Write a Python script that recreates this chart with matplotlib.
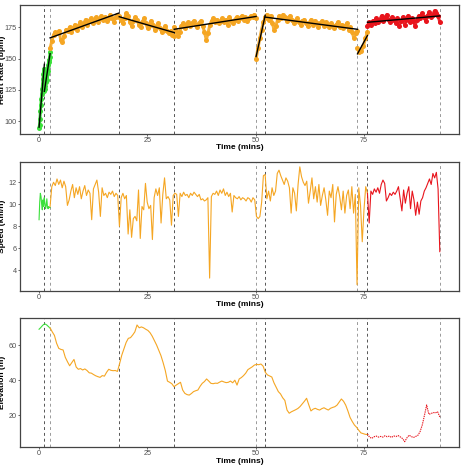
import numpy as np
import matplotlib
matplotlib.use('Agg')
import matplotlib.pyplot as plt

plt.rcParams['font.family'] = ['Liberation Sans', 'DejaVu Sans']

# lap boundaries (mins)
lap_bounds = [0, 1.22, 2.54, 18.5, 31.2, 50.1, 52.2, 73.5, 75.8, 92.5]
lap_zone = ['green', 'green', 'orange', 'orange', 'orange', 'orange', 'orange', 'orange', 'red']
marks_dark = [1.22, 18.5, 31.2, 52.2, 75.8]
marks_light = [2.54, 50.1, 73.5, 92.5]

# heart rate per lap (bpm), evenly spaced inside each lap
hr_lap1 = [95, 97, 102, 108, 113, 118, 122, 126, 130, 134, 138, 142, 140]
hr_lap2 = [124, 128, 126, 131, 135, 133, 138, 142, 140, 145, 149, 147, 151, 155]
hr_lap3 = [158, 164, 169, 171, 170, 172, 165, 163, 168, 173, 172, 175, 171, 174, 177, 173, 176, 179, 175, 178,
           181, 177, 180, 182, 178, 181, 183, 179, 182, 184, 181, 183, 180, 182, 185, 182, 179, 183, 185, 184]
hr_lap4 = [183, 181, 178, 182, 186, 184, 179, 176, 180, 183, 181, 177, 175, 179, 182, 178, 174, 176, 180, 177,
           173, 175, 178, 174, 171, 173, 176, 172, 170, 172, 169, 168]
hr_lap5 = [175, 172, 168, 171, 176, 178, 174, 177, 179, 176, 178, 180, 177, 175, 178, 180, 176, 171, 165, 170,
           177, 180, 182, 179, 181, 178, 180, 182, 179, 181, 177, 183, 180, 178, 181, 183, 180, 182, 184, 181,
           183, 180, 182, 184, 183, 185, 182]
hr_lap6 = [150, 158, 166, 173, 179, 182]
hr_lap7 = [183, 185, 181, 184, 178, 173, 176, 181, 184, 182, 185, 183, 180, 182, 184, 181, 178, 180, 182, 179,
           177, 180, 181, 178, 176, 179, 181, 177, 180, 178, 175, 178, 180, 176, 179, 177, 175, 178, 176, 174,
           177, 179, 175, 177, 174, 176, 178, 173, 175, 171, 166, 170, 172]
hr_lap8 = [158, 155, 156, 160, 166, 171]
hr_lap9 = [176, 179, 177, 180, 178, 182, 179, 181, 184, 180, 182, 185, 181, 179, 183, 181, 178, 182, 176, 180,
           183, 177, 181, 184, 179, 182, 180, 176, 181, 184, 182, 186, 183, 180, 184, 187, 183, 185, 188, 186,
           184, 179]

# speed (km/h) per zone
speed_green = [8.6, 10.2, 11.0, 10.7, 10.0, 9.5, 10.4, 9.8, 10.6, 10.1, 9.6, 9.9, 10.5, 9.7, 9.6, 9.8, 9.7, 9.7]
speed_orange = [9.8, 11.6, 12.0, 11.7, 12.3, 11.8, 12.2, 11.5, 12.1, 11.6,
                9.9, 10.4, 11.2, 11.8, 10.6, 11.5, 10.9, 11.6, 10.5, 11.2,
                11.7, 10.8, 11.3, 11.0, 8.6, 11.4, 11.8, 12.2, 11.1, 8.9,
                11.5, 10.8, 11.0, 10.6, 11.1, 10.9, 11.2, 10.7, 11.0, 10.8,
                8.0, 10.6, 11.0, 10.5, 10.8, 7.3, 9.5, 7.0, 8.7, 8.9,
                8.5, 11.3, 6.9, 9.8, 9.5, 11.9, 10.2, 9.6, 9.9, 6.8,
                10.6, 11.4, 10.8, 11.5, 8.3, 10.9, 12.4, 10.5, 10.7, 10.4,
                8.1, 10.8, 11.0, 10.9, 8.9, 11.0, 10.7, 11.1, 10.8, 10.9,
                10.6, 11.0, 10.8, 11.1, 10.9, 10.7, 10.9, 10.4, 10.5, 10.3,
                10.4, 10.6, 3.3, 10.7, 11.0, 10.9, 11.2, 10.8, 11.3, 11.0,
                11.4, 10.8, 11.1, 10.7, 11.0, 9.3, 10.8, 10.6, 10.5, 10.7,
                10.4, 10.6, 10.5, 10.3, 10.6, 10.5, 10.2, 10.6, 10.4, 8.9,
                8.7, 8.9, 10.2, 12.6, 12.7, 10.5, 11.2, 10.3, 11.5, 10.8,
                11.2, 12.8, 13.1, 12.6, 12.2, 11.8, 12.4, 12.1, 11.5, 9.2,
                11.5, 11.0, 9.4, 11.8, 13.4, 12.5, 12.0, 11.7, 12.1, 10.1,
                11.2, 12.4, 10.5, 11.6, 10.2, 11.8, 9.9, 10.8, 11.5, 10.4,
                9.0, 11.2, 10.6, 11.8, 8.4, 10.9, 11.6, 10.7, 9.5, 11.2,
                9.2, 10.8, 11.3, 9.6, 11.6, 9.2, 10.9, 2.7, 11.5, 9.9,
                6.6, 9.5, 11.6, 11.0]
speed_red = [11.0, 8.3, 11.2, 10.9, 11.4, 11.1, 11.5, 11.0, 11.8, 12.2,
             11.9, 10.3, 10.6, 11.0, 10.8, 11.1, 10.9, 11.2, 11.6, 10.5,
             9.4, 11.3, 10.1, 11.0, 11.6, 9.6, 11.2, 10.4, 9.0, 10.2,
             9.1, 10.3, 10.6, 11.2, 11.5, 11.9, 12.3, 11.8, 12.8, 12.4,
             12.9, 11.4, 5.7]

# elevation (m) per zone
elev_green = [69.0, 69.6, 70.3, 71.0, 71.6, 72.0, 71.8, 71.4, 70.8, 70.2, 69.6]
elev_orange = [69.8, 67.5, 65.5, 61.0, 58.1, 57.5, 57.2, 53.0, 50.5, 48.2,
               50.0, 51.8, 47.5, 46.2, 46.6, 45.8, 46.4, 45.5, 44.2, 44.0,
               43.2, 42.5, 42.0, 41.6, 42.6, 42.3, 44.5, 46.2, 45.6, 45.4,
               45.5, 45.0, 49.5, 54.3, 57.9, 61.5, 63.8, 64.2, 65.7, 67.5,
               71.4, 69.8, 70.3, 69.8, 69.0, 68.3, 67.0, 65.0, 62.5, 60.0,
               57.0, 54.0, 50.0, 45.5, 39.5, 38.8, 38.0, 36.3, 37.2, 38.0,
               38.8, 34.4, 32.5, 31.8, 31.5, 32.4, 33.5, 34.0, 34.4, 36.5,
               38.2, 39.2, 40.7, 39.5, 38.2, 38.0, 38.3, 38.2, 38.9, 39.5,
               39.0, 38.6, 38.8, 39.5, 38.5, 40.0, 37.2, 40.7, 41.5, 42.6,
               44.0, 46.0, 46.8, 47.6, 48.6, 49.0, 48.8, 49.2, 48.0, 44.5,
               43.0, 42.4, 41.8, 38.5, 36.0, 33.5, 32.2, 30.0, 28.5, 23.0,
               21.2, 22.0, 22.6, 23.2, 23.9, 25.0, 26.5, 28.0, 29.7, 26.0,
               22.5, 23.5, 24.0, 23.4, 23.0, 23.8, 24.3, 23.6, 23.0, 24.0,
               24.5, 24.9, 25.8, 27.5, 29.3, 28.0, 25.8, 22.5, 18.8, 16.5,
               14.5, 13.2, 11.5, 10.0, 9.6, 9.2, 9.1]
elev_red = [9.4, 7.5, 6.9, 7.8, 8.2, 7.6, 8.0, 7.6, 8.4, 7.8,
            8.2, 7.4, 8.3, 7.9, 8.5, 7.7, 6.8, 5.0, 7.2, 8.7,
            7.9, 7.4, 8.0, 8.6, 10.7, 14.5, 20.0, 25.9, 20.6, 21.0,
            21.6, 21.4, 22.0, 19.1]

colours = {'green': '#3BE03B', 'orange': '#F5A623', 'red': '#E8141C'}
zone_span = {'green': (0, 2.54), 'orange': (2.54, 75.8), 'red': (75.8, 92.5)}

fig = plt.figure(figsize=(4.61, 4.72), dpi=100)
ax1 = fig.add_axes([0.0434, 0.716, 0.9529, 0.274])
ax2 = fig.add_axes([0.0434, 0.384, 0.9529, 0.273])
ax3 = fig.add_axes([0.0434, 0.0523, 0.9529, 0.2733])

# heart rate scatter + per lap linear fit
hr_laps = [hr_lap1, hr_lap2, hr_lap3, hr_lap4, hr_lap5, hr_lap6, hr_lap7, hr_lap8, hr_lap9]
for i, vals in enumerate(hr_laps):
    t = np.linspace(lap_bounds[i], lap_bounds[i + 1], len(vals))
    ax1.plot(t, vals, color=colours[lap_zone[i]], lw=2.2, alpha=0.9, zorder=2)
    ax1.scatter(t, vals, s=13, color=colours[lap_zone[i]], lw=0, zorder=2)
for i, vals in enumerate(hr_laps):
    t = np.linspace(lap_bounds[i], lap_bounds[i + 1], len(vals))
    coef = np.polyfit(t, vals, 1)
    ends = np.array([t[0], t[-1]])
    ax1.plot(ends, np.polyval(coef, ends), color='black', lw=1.0, zorder=3)

for zone, vals in [('green', speed_green), ('orange', speed_orange), ('red', speed_red)]:
    t = np.linspace(zone_span[zone][0], zone_span[zone][1], len(vals))
    ax2.plot(t, vals, color=colours[zone], lw=0.8, zorder=2)

for zone, vals in [('green', elev_green), ('orange', elev_orange), ('red', elev_red)]:
    t = np.linspace(zone_span[zone][0], zone_span[zone][1], len(vals))
    ls = (0, (1.2, 0.8)) if zone == 'red' else '-'
    ax3.plot(t, vals, color=colours[zone], lw=0.8, ls=ls, zorder=2)

ylabels = ['Heart Rate (bpm)', 'Speed (km/h)', 'Elevation (m)']
yticks = [[100, 125, 150, 175], [4, 6, 8, 10, 12], [20, 40, 60]]
ylims = [(89.9, 192.8), (2.15, 13.85), (1.8, 75.2)]
for ax, lab, tk, yl in zip([ax1, ax2, ax3], ylabels, yticks, ylims):
    for m in marks_dark:
        ax.axvline(m, color='#555555', lw=0.7, ls=(0, (3, 3)), zorder=1)
    for m in marks_light:
        ax.axvline(m, color='#9a9a9a', lw=0.7, ls=(0, (3, 3)), zorder=1)
    ax.set_xlim(-4.4, 97.0)
    ax.set_ylim(*yl)
    ax.set_xticks([0, 25, 50, 75])
    ax.set_yticks(tk)
    ax.tick_params(labelsize=5.2, colors='#4D4D4D', length=1.6, width=0.6, pad=0.6)
    for sp in ax.spines.values():
        sp.set_color('#444444')
        sp.set_linewidth(0.9)
    ax.set_xlabel('Time (mins)', fontsize=6, fontweight='bold', labelpad=0.2)
    ax.set_ylabel(lab, fontsize=6, fontweight='bold')
    ax.yaxis.set_label_coords(-0.0315, 0.5)

fig.savefig('out.png', dpi=100)
